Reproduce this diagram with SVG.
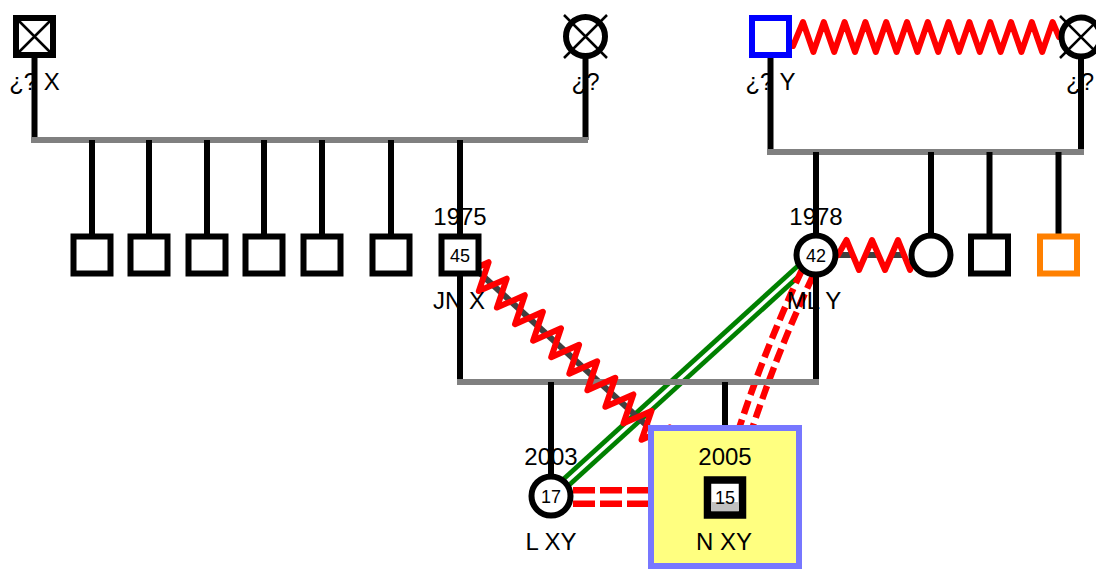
<svg xmlns="http://www.w3.org/2000/svg" width="1096" height="570" viewBox="0 0 1096 570">
<style>
.lbl{font-family:"Liberation Sans",Arial,sans-serif;font-size:24px;fill:#000;text-anchor:middle}
.num{font-family:"Liberation Sans",Arial,sans-serif;font-size:18px;fill:#000;text-anchor:middle}
.sq{fill:#fff;stroke:#000;stroke-width:6}
.ci{fill:#fff;stroke:#000;stroke-width:6}
.x{stroke:#000;stroke-width:2.5;fill:none}
.stem{stroke:#000;stroke-width:6;fill:none}
.bar{stroke:#808080;stroke-width:6;fill:none}
.zz{stroke:#ff0000;stroke-width:6;fill:none;stroke-linejoin:round;stroke-linecap:round}
.rel{stroke:#404040;stroke-width:6;fill:none}
.grn{stroke:#008000;stroke-width:13;fill:none}
.gap{stroke:#fff;fill:none}
.rdash{stroke:#ff0000;fill:none}
</style>
<rect x="0" y="0" width="1096" height="570" fill="#fff"/>
<g id="connectors">
  <g id="relationships">
    <line class="grn" x1="816" y1="255" x2="551" y2="496"/>
    <line class="gap" stroke-width="3.5" x1="816" y1="255" x2="551" y2="496"/>
    <path class="rdash" stroke-width="19" stroke-dasharray="14 6" d="M816,255 Q759,372 725,497"/>
    <path class="gap" stroke-width="6" d="M816,255 Q759,372 725,497"/>
    <line class="rdash" stroke-width="20" stroke-dasharray="22 5" stroke-dashoffset="5" x1="551" y1="497" x2="725" y2="497"/>
    <line class="gap" stroke-width="7" x1="551" y1="497" x2="725" y2="497"/>
    <line class="rel" x1="460" y1="255" x2="725" y2="497"/>
    <line class="rel" stroke-width="5" stroke-dasharray="14 13" stroke-dashoffset="5" x1="816" y1="255" x2="931" y2="255"/>
  </g>
  <g id="lines-of-descent">
    <line class="stem" x1="34.5" y1="36" x2="34.5" y2="140"/>
    <line class="stem" x1="585.5" y1="36" x2="585.5" y2="140"/>
    <line class="bar" x1="31" y1="140" x2="588" y2="140"/>
    <line class="stem" x1="92" y1="140" x2="92" y2="237"/>
    <line class="stem" x1="149" y1="140" x2="149" y2="237"/>
    <line class="stem" x1="207" y1="140" x2="207" y2="237"/>
    <line class="stem" x1="264" y1="140" x2="264" y2="237"/>
    <line class="stem" x1="322" y1="140" x2="322" y2="237"/>
    <line class="stem" x1="391" y1="140" x2="391" y2="237"/>
    <line class="stem" x1="460" y1="140" x2="460" y2="237"/>
    <line class="stem" x1="770.5" y1="36" x2="770.5" y2="152"/>
    <line class="stem" x1="1081" y1="37" x2="1081" y2="152"/>
    <line class="bar" x1="767" y1="152" x2="1084" y2="152"/>
    <line class="stem" x1="816" y1="152" x2="816" y2="237"/>
    <line class="stem" x1="931" y1="152" x2="931" y2="237"/>
    <line class="stem" x1="989.5" y1="152" x2="989.5" y2="237"/>
    <line class="stem" x1="1058.5" y1="152" x2="1058.5" y2="237"/>
    <line class="stem" x1="460" y1="255" x2="460" y2="382"/>
    <line class="stem" x1="816" y1="255" x2="816" y2="382"/>
    <line class="bar" x1="457" y1="382" x2="819" y2="382"/>
    <line class="stem" x1="551" y1="382" x2="551" y2="478"/>
    <line class="stem" x1="725" y1="382" x2="725" y2="430"/>
  </g>
  <g id="zigzags">
    <path class="zz" d="M793,46 L803,22 L813.4,52 L823.8,22 L834.2,52 L844.6,22 L855,52 L865.4,22 L875.8,52 L886.2,22 L896.6,52 L907,22 L917.4,52 L927.8,22 L938.2,52 L948.6,22 L959,52 L969.4,22 L979.8,52 L990.2,22 L1000.6,52 L1011,22 L1021.4,52 L1031.8,22 L1042.2,52 L1052.6,22 L1059,37"/>
    <path class="zz" d="M838,255 L846.5,240 L859,270 L872,240 L885,270 L898,240 L910,270 L916,255"/>
    <path class="zz" d="M474.8,268.5 L488.6,262.2 L478.8,291.1 L506.7,278.7 L496.9,307.6 L524.8,295.2 L515.0,324.2 L542.9,311.8 L533.1,340.7 L561.0,328.3 L551.2,357.2 L579.1,344.8 L569.3,373.7 L597.2,361.3 L587.4,390.3 L615.3,377.8 L605.4,406.8 L633.4,394.4 L623.5,423.3 L651.5,410.9 L641.6,439.8 L669.5,427.4 L659.7,456.3 L687.6,443.9"/>
  </g>
</g>
<g id="n-gf-x">
  <rect class="sq" x="16" y="18" width="37" height="37"/>
  <path class="x" d="M19,21 L50,52 M50,21 L19,52"/>
  <text class="lbl" x="34.5" y="90">¿? X</text>
</g>
<g id="n-gm-x">
  <circle class="ci" cx="585.5" cy="36.5" r="19.5"/>
  <path class="x" d="M564,15 L607,58 M607,15 L564,58"/>
  <text class="lbl" x="585.5" y="90">¿?</text>
</g>
<g id="n-gf-y">
  <rect class="sq" x="752" y="18" width="37" height="37" style="stroke:#0000ff"/>
  <text class="lbl" x="770.5" y="90">¿? Y</text>
</g>
<g id="n-gm-y">
  <circle class="ci" cx="1081" cy="37" r="19.5"/>
  <path class="x" d="M1060,16 L1102,58 M1102,16 L1060,58"/>
  <text class="lbl" x="1080" y="90">¿?</text>
</g>
<g id="n-sib1"><rect class="sq" x="73.5" y="236.5" width="37" height="37"/></g>
<g id="n-sib2"><rect class="sq" x="130.5" y="236.5" width="37" height="37"/></g>
<g id="n-sib3"><rect class="sq" x="188.5" y="236.5" width="37" height="37"/></g>
<g id="n-sib4"><rect class="sq" x="245.5" y="236.5" width="37" height="37"/></g>
<g id="n-sib5"><rect class="sq" x="303.5" y="236.5" width="37" height="37"/></g>
<g id="n-sib6"><rect class="sq" x="372.5" y="236.5" width="37" height="37"/></g>
<g id="n-jn">
  <rect class="sq" x="441.5" y="236.5" width="37" height="37"/>
  <text class="num" x="460" y="261.5">45</text>
  <text class="lbl" x="460" y="225">1975</text>
  <text class="lbl" x="459" y="309">JN X</text>
</g>
<g id="n-ml">
  <circle class="ci" cx="816" cy="255" r="19.5"/>
  <text class="num" x="816" y="261.5">42</text>
  <text class="lbl" x="816" y="225">1978</text>
  <text class="lbl" x="814" y="309">ML Y</text>
</g>
<g id="n-sis"><circle class="ci" cx="931" cy="255" r="19.5"/></g>
<g id="n-bro"><rect class="sq" x="971" y="236.5" width="37" height="37"/></g>
<g id="n-bro2"><rect class="sq" x="1040" y="236.5" width="37" height="37" style="stroke:#ff8000"/></g>
<g id="n-l">
  <circle class="ci" cx="551" cy="496" r="19.5"/>
  <text class="num" x="551" y="502.5">17</text>
  <text class="lbl" x="551" y="465">2003</text>
  <text class="lbl" x="551" y="550">L XY</text>
</g>
<g id="n-n">
  <rect x="651" y="428" width="148" height="138" fill="#ffff80" stroke="#7777ff" stroke-width="6"/>
  <rect x="707.5" y="480" width="35" height="35" fill="#fff" stroke="#000" stroke-width="7.5"/>
  <rect x="711.5" y="502" width="27" height="9" fill="#c0c0c0"/>
  <text class="num" x="725" y="504">15</text>
  <text class="lbl" x="725" y="465">2005</text>
  <text class="lbl" x="724" y="550">N XY</text>
</g>
</svg>
